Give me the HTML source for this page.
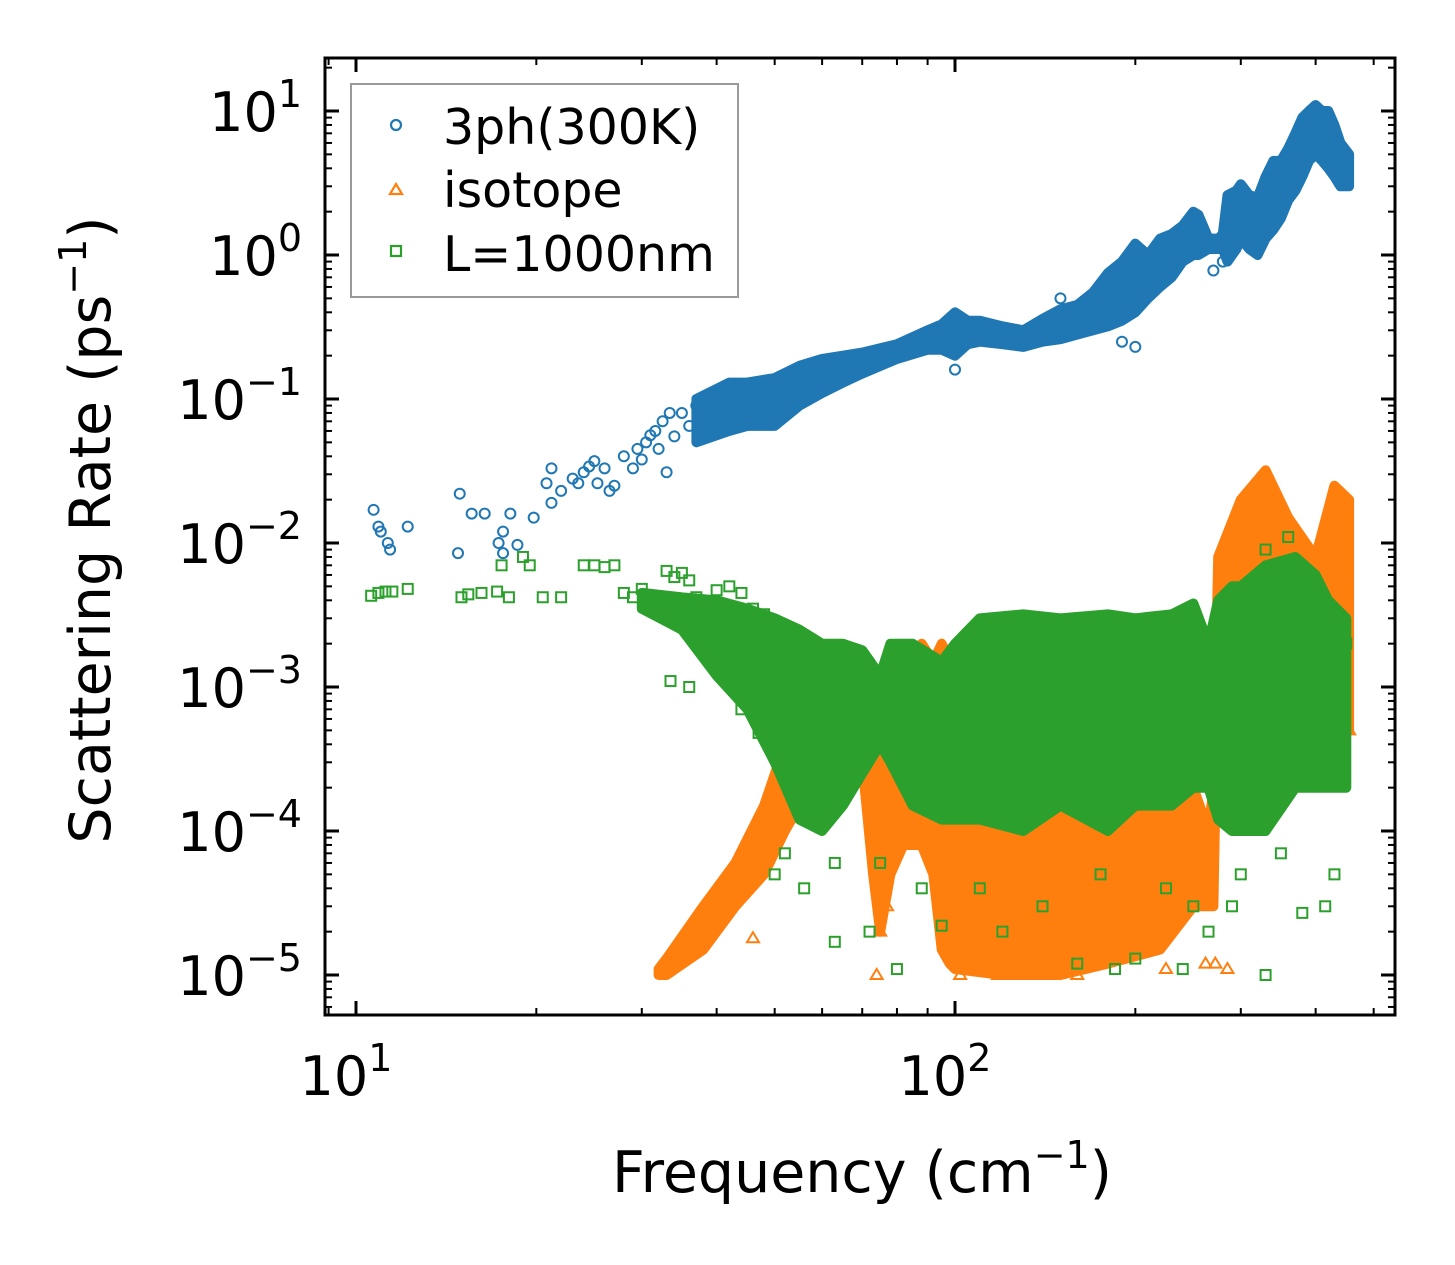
<!DOCTYPE html>
<html><head><meta charset="utf-8"><style>
html,body{margin:0;padding:0;background:#fff;}
svg{display:block;font-family:"DejaVu Sans","Liberation Sans",sans-serif;}
</style></head><body>
<svg id="chart" width="1455" height="1265" viewBox="0 0 1455 1265" xmlns="http://www.w3.org/2000/svg">
<rect width="1455" height="1265" fill="#fff"/>
<g id="marks"></g>
<g id="axes"></g>
<g id="legend">
<rect x="351" y="84" width="387" height="213" fill="#fff" stroke="#999" stroke-width="2"/>
<circle cx="396" cy="125" r="5" fill="none" stroke="#1f77b4" stroke-width="2.2"/>
<text x="443" y="144" font-size="49">3ph(300K)</text>
<path d="M396,184 L402,194 L390,194 Z" fill="none" stroke="#ff7f0e" stroke-width="2.2"/>
<text x="443" y="207" font-size="49">isotope</text>
<rect x="391" y="246" width="10" height="10" fill="none" stroke="#2ca02c" stroke-width="2.2"/>
<text x="443" y="271" font-size="49">L=1000nm</text>
</g>
<text x="862" y="1192" font-size="57" text-anchor="middle">Frequency (cm<tspan font-size="38" dy="-24">−1</tspan><tspan dy="24">)</tspan></text>
<text transform="translate(110,530) rotate(-90)" font-size="57" text-anchor="middle">Scattering Rate (ps<tspan font-size="38" dy="-24">−1</tspan><tspan dy="24">)</tspan></text>
</svg>
<script>
// ---- data ----
const blueFreq = [10.7,10.9,11.0,11.3,11.4,12.2,14.9,14.8,15.6,16.4,17.3,17.6,17.6,18.1,18.6,19.8,20.8,21.2,21.2,22,23,23.5,24,24.5,25,25.3,26,26.5,27,28,29,29.5,30,30.5,31,31.6,32,32.5,33,33.4,34,35,36,37,38,39,40,100,150,200,190,270,280];
const blueRate = [0.017,0.013,0.012,0.010,0.009,0.013,0.022,0.0085,0.016,0.016,0.01,0.012,0.0085,0.016,0.0097,0.015,0.026,0.033,0.019,0.023,0.028,0.026,0.031,0.034,0.037,0.026,0.033,0.023,0.025,0.04,0.033,0.045,0.038,0.05,0.056,0.06,0.045,0.07,0.031,0.08,0.055,0.08,0.065,0.09,0.07,0.1,0.06,0.16,0.5,0.23,0.25,0.78,0.9];
const blueBandFreq = [37,42,45,50,55,60,65,70,80,90,95,100,105,110,120,130,140,150,160,170,180,190,200,210,220,230,240,250,255,265,275,280,285,295,300,310,320,330,340,350,360,370,380,390,400,410,420,430,440,455];
const blueBandHigh = [0.1,0.13,0.13,0.14,0.17,0.19,0.2,0.21,0.24,0.3,0.33,0.4,0.35,0.35,0.32,0.3,0.36,0.42,0.45,0.55,0.75,0.9,1.2,1.0,1.3,1.4,1.6,2.0,1.9,1.3,1.3,1.4,2.6,2.8,3.1,2.6,2.5,3.5,4.5,4.5,5.5,7,9,10,11,10,10,8,6,5];
const blueBandLow = [0.05,0.06,0.065,0.065,0.09,0.11,0.13,0.15,0.19,0.22,0.22,0.2,0.24,0.25,0.24,0.23,0.25,0.26,0.28,0.3,0.32,0.35,0.4,0.5,0.6,0.7,0.9,1.0,1.0,1.1,1.1,1.1,0.9,1.1,1.3,1.1,1.0,1.3,1.5,1.8,2.4,2.8,3.5,4.5,5,4.5,4,3.5,3,3];

const orangeBandFreq = [32,33,38,43,48,52,55,58,60,65,70,73,75,78,82,88,92,95,98,100,120,150,180,220,250,265,270,275,300,330,360,400,430,455];
const orangeBandHigh = [1.1e-5,1.3e-5,3e-5,6e-5,1.5e-4,4e-4,1e-3,1e-3,1.2e-3,8e-4,8e-4,3e-4,2e-4,1.5e-3,1.5e-3,2e-3,1.5e-3,2e-3,1.5e-3,2e-4,2e-4,2.5e-4,2.5e-4,2e-4,2e-4,1e-4,2e-4,0.008,0.02,0.032,0.015,0.008,0.025,0.02];
const orangeBandLow = [1e-5,1e-5,1.5e-5,3e-5,5e-5,1e-4,1.5e-4,1.5e-4,2e-4,3e-4,3e-4,5e-5,2e-5,5e-5,8e-5,8e-5,5e-5,1.5e-5,1.2e-5,1.1e-5,1e-5,1e-5,1.2e-5,1.5e-5,3e-5,3e-5,3e-5,0.002,0.003,0.004,0.003,0.002,0.003,0.0005];
const orangeFreq = [46,74,75,77,102,118,160,225,262,272,285,455];
const orangeRate = [1.8e-5,1e-5,2e-5,3e-5,1e-5,1e-5,1e-5,1.1e-5,1.2e-5,1.2e-5,1.1e-5,5e-4];

const greenFreq = [10.6,10.9,11.2,11.5,12.2,15,15.4,16.2,17.2,17.5,18,19,19.5,20.5,22,24,25,26,27,28,29,30,33,34,35,36,37,40,42,44,46,48,50,52,55,58,60,62,65,68,72,78,82,90,95,105,115,130,150,160,175,190,205,220,240,260,280,300,330,360,400,420,450,33.5,36,44,47,60,63,80,95,120,160,185,200,240,290,330,380,415,50,52,56,63,72,75,88,110,140,175,225,250,265,300,350,430];
const greenRate = [0.0043,0.0045,0.0046,0.0046,0.0048,0.0042,0.0044,0.0045,0.0046,0.007,0.0042,0.008,0.007,0.0042,0.0042,0.007,0.007,0.0068,0.007,0.0045,0.0042,0.0048,0.0064,0.0058,0.0062,0.0055,0.0042,0.0047,0.005,0.0045,0.0035,0.0032,0.0028,0.0023,0.0022,0.0018,0.0016,0.0015,0.0016,0.0015,0.0012,0.0014,0.0012,0.0011,0.001,0.0012,0.0011,0.0010,0.0010,0.0011,0.0012,0.0011,0.0012,0.0013,0.0015,0.0016,0.004,0.004,0.009,0.011,0.005,0.003,0.002,0.0011,0.0010,0.0007,0.00048,0.00014,0.000017,0.000011,0.000022,0.00002,0.000012,0.000011,0.000013,0.000011,0.00003,0.00001,0.000027,0.00003,0.00005,0.00007,0.00004,0.00006,0.00002,0.00006,0.00004,0.00004,0.00003,0.00005,0.00004,0.00003,0.00002,0.00005,0.00007,0.00005];
const greenBandFreq = [30,35,40,45,50,55,60,65,70,75,78,85,95,100,110,130,150,180,200,230,250,265,275,290,300,330,370,400,420,450];
const greenBandHigh = [0.0045,0.0042,0.004,0.0035,0.003,0.0025,0.002,0.002,0.0018,0.0012,0.002,0.002,0.0015,0.002,0.003,0.0032,0.003,0.0032,0.003,0.0032,0.0038,0.002,0.004,0.005,0.005,0.007,0.008,0.006,0.004,0.003];
const greenBandLow = [0.0035,0.0025,0.0012,0.0007,0.0003,0.00012,0.0001,0.00015,0.00025,0.0004,0.0003,0.00015,0.00012,0.00012,0.00012,0.0001,0.00015,0.0001,0.00015,0.00015,0.0002,0.0002,0.00012,0.0001,0.0001,0.0001,0.0002,0.0002,0.0002,0.0002];

const xTickVals = [10,100];
const xTickLabels = ["1","2"];
const yTickVals = [1e-5,1e-4,1e-3,1e-2,1e-1,1,10];
const yTickExps = ["−5","−4","−3","−2","−1","0","1"];

// ---- scales ----
const X0 = 325, X1 = 1395, Y0 = 58, Y1 = 1015;
function xs(f){ return 356 + (Math.log10(f) - 1) * 599; }
function ys(r){ return 111 - (Math.log10(r) - 1) * 144; }
const NS = "http://www.w3.org/2000/svg";
const marks = document.getElementById('marks');
const axes = document.getElementById('axes');
function mk(tag, attrs, parent){
  const e = document.createElementNS(NS, tag);
  for (const k in attrs) e.setAttribute(k, attrs[k]);
  parent.appendChild(e);
  return e;
}
function band(fr, hi, lo, color, name){
  let d = '';
  fr.forEach((f,i)=>{ d += (i?'L':'M') + xs(f).toFixed(1) + ',' + ys(hi[i]).toFixed(1); });
  for (let i = fr.length-1; i >= 0; i--) d += 'L' + xs(fr[i]).toFixed(1) + ',' + ys(lo[i]).toFixed(1);
  d += 'Z';
  const p = mk('path', {d:d, fill:color, stroke:color, 'stroke-width':10, 'stroke-linejoin':'round'}, marks);
  
  
}
function pts(fr, rt, color, shape, name){
  fr.forEach((f,i)=>{
    const x = xs(f), y = ys(rt[i]);
    let e;
    if (shape === 'c') e = mk('circle', {cx:x, cy:y, r:5, fill:'none', stroke:color, 'stroke-width':2}, marks);
    else if (shape === 't') e = mk('path', {d:`M${x},${y-6}L${x+6},${y+4}L${x-6},${y+4}Z`, fill:'none', stroke:color, 'stroke-width':2}, marks);
    else e = mk('rect', {x:x-5, y:y-5, width:10, height:10, fill:'none', stroke:color, 'stroke-width':2}, marks);
    
    
  });
}
const clip = mk('clipPath', {id:'pc'}, mk('defs', {}, marks));
mk('rect', {x:X0, y:Y0, width:X1-X0, height:Y1-Y0}, clip);
marks.setAttribute('clip-path', 'url(#pc)');

band(blueBandFreq, blueBandHigh, blueBandLow, '#1f77b4', 'band-3ph');
pts(blueFreq, blueRate, '#1f77b4', 'c', 'point-3ph');
band(orangeBandFreq, orangeBandHigh, orangeBandLow, '#ff7f0e', 'band-isotope');
pts(orangeFreq, orangeRate, '#ff7f0e', 't', 'point-isotope');
band(greenBandFreq, greenBandHigh, greenBandLow, '#2ca02c', 'band-L1000');
pts(greenFreq, greenRate, '#2ca02c', 's', 'point-L1000');

// ---- axes ----
const frame = mk('rect', {x:X0, y:Y0, width:X1-X0, height:Y1-Y0, fill:'none', stroke:'#000', 'stroke-width':3}, axes);


function tickLine(x1,y1,x2,y2,w,name){
  const l = mk('line', {x1:x1,y1:y1,x2:x2,y2:y2,stroke:'#000','stroke-width':w}, axes);
  
  
}
for (let d = 1; d <= 100; d *= 10) {
  for (let m = 1; m < 10; m++) {
    const v = d*m, x = xs(v);
    if (x < X0 || x > X1) continue;
    const major = (m === 1);
    const L = major ? 14 : 7, w = major ? 3 : 2;
    tickLine(x, Y1, x, Y1-L, w, major ? 'x-major-tick' : 'x-minor-tick');
    tickLine(x, Y0, x, Y0+L, w, major ? 'x-major-tick' : 'x-minor-tick');
  }
}
xTickVals.forEach((v,i)=>{
  const t = mk('text', {x:xs(v)-10, y:1095, 'font-size':54, 'text-anchor':'middle'}, axes);
  
  
  t.innerHTML = '10<tspan font-size="38" dy="-24">' + xTickLabels[i] + '</tspan>';
});
for (let e = -6; e <= 1; e++) {
  for (let m = 1; m < 10; m++) {
    const v = m * Math.pow(10, e), y = ys(v);
    if (y < Y0 || y > Y1) continue;
    const major = (m === 1);
    const L = major ? 14 : 7, w = major ? 3 : 2;
    tickLine(X0, y, X0+L, y, w, major ? 'y-major-tick' : 'y-minor-tick');
    tickLine(X1, y, X1-L, y, w, major ? 'y-major-tick' : 'y-minor-tick');
  }
}
yTickVals.forEach((v,i)=>{
  const t = mk('text', {x:302, y:ys(v)+20, 'font-size':54, 'text-anchor':'end'}, axes);
  
  
  t.innerHTML = '10<tspan font-size="38" dy="-24">' + yTickExps[i] + '</tspan>';
});
</script>
</body></html>
